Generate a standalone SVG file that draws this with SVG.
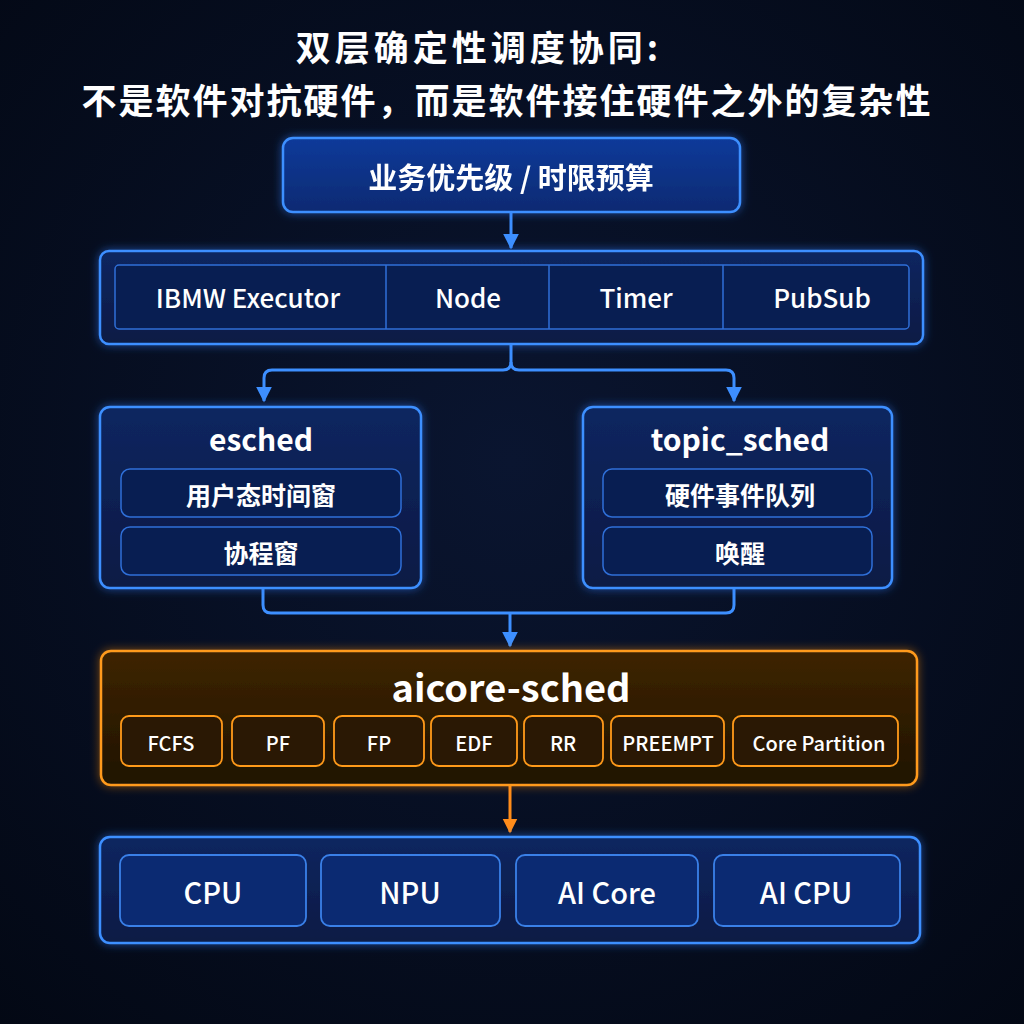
<svg xmlns="http://www.w3.org/2000/svg" width="1024" height="1024" viewBox="0 0 1024 1024">
<defs>
<radialGradient id="bg" cx="50%" cy="45%" r="75%">
<stop offset="0" stop-color="#0a1530"/>
<stop offset="1" stop-color="#030814"/>
</radialGradient>
<linearGradient id="blueFill" x1="0" y1="0" x2="0" y2="1">
<stop offset="0" stop-color="#0d3a9a"/>
<stop offset="1" stop-color="#0a2a72"/>
</linearGradient>
<linearGradient id="panelFill" x1="0" y1="0" x2="0" y2="1">
<stop offset="0" stop-color="#0a2660"/>
<stop offset="1" stop-color="#071a44"/>
</linearGradient>
<linearGradient id="orangeFill" x1="0" y1="0" x2="0" y2="1">
<stop offset="0" stop-color="#3e2406"/>
<stop offset="1" stop-color="#1f1305"/>
</linearGradient>
<filter id="glow" x="-10%" y="-20%" width="120%" height="140%">
<feGaussianBlur in="SourceAlpha" stdDeviation="5" result="b"/>
<feFlood flood-color="#2f7dff" flood-opacity="0.55"/>
<feComposite in2="b" operator="in" result="g"/>
<feMerge><feMergeNode in="g"/><feMergeNode in="SourceGraphic"/></feMerge>
</filter>
<filter id="glowO" x="-10%" y="-20%" width="120%" height="140%">
<feGaussianBlur in="SourceAlpha" stdDeviation="5" result="b"/>
<feFlood flood-color="#ff8c00" flood-opacity="0.5"/>
<feComposite in2="b" operator="in" result="g"/>
<feMerge><feMergeNode in="g"/><feMergeNode in="SourceGraphic"/></feMerge>
</filter>
<marker id="ab" viewBox="0 0 10 10" refX="9" refY="5" markerWidth="16" markerHeight="18" markerUnits="userSpaceOnUse" orient="auto">
<path d="M0,0 L10,5 L0,10 Z" fill="#3d8fff"/>
</marker>
<marker id="ao" viewBox="0 0 10 10" refX="9" refY="5" markerWidth="15" markerHeight="16" markerUnits="userSpaceOnUse" orient="auto">
<path d="M0,0 L10,5 L0,10 Z" fill="#ff8c1a"/>
</marker>
<style>
text{font-family:"Noto Sans CJK SC","Noto Sans","Inter",sans-serif;fill:#ffffff;text-anchor:middle;dominant-baseline:central;}
.title{font-weight:700;font-size:35px;}
.box{fill:url(#blueFill);stroke:#3d8fff;stroke-width:2.5;}
.panel{fill:url(#panelFill);stroke:#3d8fff;stroke-width:2.5;}
.inner{fill:#081e52;stroke:#2f6fd8;stroke-width:1.5;}
.chip{fill:#0b2a72;stroke:#3a80e8;stroke-width:1.8;}
.ochip{fill:#2a1804;stroke:#ff9a1a;stroke-width:1.8;}
.obox{fill:url(#orangeFill);stroke:#ff9a1a;stroke-width:2.5;}
.lbl{font-weight:500;font-size:26px;}
.cjk{font-weight:700;font-size:25px;}
.h{font-weight:600;font-size:30px;}
.hw{font-weight:500;font-size:29px;}
.olbl{font-weight:500;font-size:20px;}
.conn{fill:none;stroke:#3d8fff;stroke-width:3;}
</style>
</defs>
<rect width="1024" height="1024" fill="url(#bg)"/>

<g id="title">
<text class="title" x="479" y="45" style="letter-spacing:4px">双层确定性调度协同:</text>
<text class="title" x="507" y="98" style="letter-spacing:2px">不是软件对抗硬件，而是软件接住硬件之外的复杂性</text>
</g>

<g id="connectors">
<line class="conn" x1="511" y1="212" x2="511" y2="248" marker-end="url(#ab)"/>
<path class="conn" d="M511,344 L511,362 Q511,370 503,370 L272,370 Q264,370 264,378 L264,401" marker-end="url(#ab)"/>
<path class="conn" d="M511,362 Q511,370 519,370 L726,370 Q734,370 734,378 L734,401" marker-end="url(#ab)"/>
<path class="conn" d="M263,588 L263,605 Q263,613 271,613 L726,613 Q734,613 734,605 L734,588"/>
<line class="conn" x1="510" y1="613" x2="510" y2="646" marker-end="url(#ab)"/>
<line x1="510" y1="785" x2="510" y2="832" stroke="#ff8c1a" stroke-width="3" marker-end="url(#ao)"/>
</g>

<g id="node-priority" filter="url(#glow)">
<rect class="box" x="283" y="138" width="457" height="74" rx="10"/>
<text x="511" y="176" style="font-weight:700;font-size:29px">业务优先级 / 时限预算</text>
</g>

<g id="node-executor">
<rect class="panel" x="100" y="251" width="823" height="93" rx="9" filter="url(#glow)"/>
<rect class="inner" x="115" y="265" width="794" height="64" rx="4"/>
<line x1="386" y1="265" x2="386" y2="329" stroke="#2f6fd8" stroke-width="1.5"/>
<line x1="549" y1="265" x2="549" y2="329" stroke="#2f6fd8" stroke-width="1.5"/>
<line x1="723" y1="265" x2="723" y2="329" stroke="#2f6fd8" stroke-width="1.5"/>
<text class="lbl" x="248" y="296">IBMW Executor</text>
<text class="lbl" x="468" y="296">Node</text>
<text class="lbl" x="636" y="296">Timer</text>
<text class="lbl" x="822" y="296">PubSub</text>
</g>

<g id="node-esched">
<rect class="panel" x="100" y="407" width="321" height="181" rx="10" filter="url(#glow)"/>
<text class="h" x="261" y="438">esched</text>
<rect class="inner" x="121" y="469" width="280" height="48" rx="9"/>
<text class="cjk" x="261" y="494">用户态时间窗</text>
<rect class="inner" x="121" y="527" width="280" height="48" rx="9"/>
<text class="cjk" x="261" y="552">协程窗</text>
</g>

<g id="node-topic">
<rect class="panel" x="583" y="407" width="309" height="181" rx="10" filter="url(#glow)"/>
<text class="h" x="740" y="438">topic_sched</text>
<rect class="inner" x="603" y="469" width="269" height="48" rx="9"/>
<text class="cjk" x="740" y="494">硬件事件队列</text>
<rect class="inner" x="603" y="527" width="269" height="48" rx="9"/>
<text class="cjk" x="740" y="552">唤醒</text>
</g>

<g id="node-aicore">
<rect class="obox" x="101" y="651" width="816" height="134" rx="10" filter="url(#glowO)"/>
<text x="511" y="685" style="font-weight:700;font-size:38px">aicore-sched</text>
<rect class="ochip" x="121" y="716" width="101" height="50" rx="8"/>
<text class="olbl" x="171" y="742">FCFS</text>
<rect class="ochip" x="232" y="716" width="92" height="50" rx="8"/>
<text class="olbl" x="278" y="742">PF</text>
<rect class="ochip" x="334" y="716" width="90" height="50" rx="8"/>
<text class="olbl" x="379" y="742">FP</text>
<rect class="ochip" x="431" y="716" width="86" height="50" rx="8"/>
<text class="olbl" x="474" y="742">EDF</text>
<rect class="ochip" x="524" y="716" width="79" height="50" rx="8"/>
<text class="olbl" x="563" y="742">RR</text>
<rect class="ochip" x="611" y="716" width="113" height="50" rx="8"/>
<text class="olbl" x="668" y="742">PREEMPT</text>
<rect class="ochip" x="733" y="716" width="165" height="50" rx="8"/>
<text class="olbl" x="819" y="742">Core Partition</text>
</g>

<g id="node-hardware">
<rect class="panel" x="100" y="837" width="820" height="106" rx="10" filter="url(#glow)"/>
<rect class="chip" x="120" y="855" width="186" height="71" rx="9"/>
<text class="hw" x="213" y="891">CPU</text>
<rect class="chip" x="321" y="855" width="179" height="71" rx="9"/>
<text class="hw" x="410" y="891">NPU</text>
<rect class="chip" x="516" y="855" width="182" height="71" rx="9"/>
<text class="hw" x="607" y="891">AI Core</text>
<rect class="chip" x="714" y="855" width="186" height="71" rx="9"/>
<text class="hw" x="806" y="891">AI CPU</text>
</g>
</svg>
